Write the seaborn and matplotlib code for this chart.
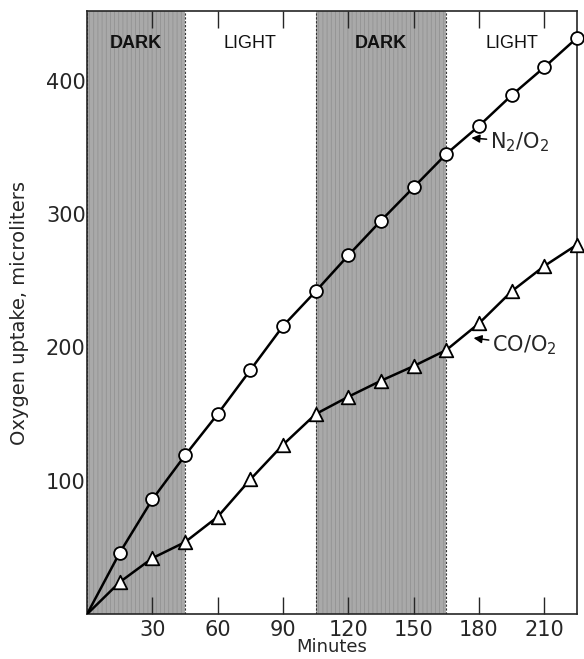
import numpy as np
import pandas as pd
import matplotlib
matplotlib.use('Agg')
import matplotlib.pyplot as plt
import seaborn as sns

minutes = [0, 15, 30, 45, 60, 75, 90, 105, 120, 135, 150, 165, 180, 195, 210, 225]
n2_o2 = [0, 46, 86, 119, 150, 183, 216, 242, 269, 295, 320, 345, 366, 389, 410, 432]
co_o2 = [0, 24, 42, 54, 73, 101, 127, 150, 163, 175, 186, 198, 218, 242, 261, 277]
dark_periods = [(0, 45), (105, 165)]
period_labels = ['DARK', 'LIGHT', 'DARK', 'LIGHT']
period_centers = [22.5, 75, 135, 195]

df = pd.DataFrame({'minutes': minutes, 'N2/O2': n2_o2, 'CO/O2': co_o2})

sns.set_style('ticks')
plt.rcParams['font.family'] = ['DejaVu Sans']
plt.rcParams['hatch.linewidth'] = 0.5

fig = plt.figure(figsize=(5.84, 6.59), dpi=100)
ax = fig.add_axes([0.149, 0.068, 0.839, 0.915])

for x0, x1 in dark_periods:
    ax.axvspan(x0, x1, facecolor='#a9a9a9', edgecolor='#8e8e8e', hatch='||||',
               linewidth=0, zorder=0)
    ax.axvline(x0, color='#333333', linestyle=(0, (2, 1.5)), linewidth=0.8, zorder=1)
    ax.axvline(x1, color='#333333', linestyle=(0, (2, 1.5)), linewidth=0.8, zorder=1)

sns.lineplot(data=df, x='minutes', y='N2/O2', ax=ax, color='black', linewidth=1.8, zorder=3)
sns.lineplot(data=df, x='minutes', y='CO/O2', ax=ax, color='black', linewidth=1.8, zorder=3)
ax.scatter(df['minutes'][1:], df['N2/O2'][1:], s=85, marker='o', facecolor='white',
           edgecolor='black', linewidth=1.3, zorder=4, clip_on=False)
ax.scatter(df['minutes'][1:], df['CO/O2'][1:], s=95, marker='^', facecolor='white',
           edgecolor='black', linewidth=1.3, zorder=4, clip_on=False)

for lab, xc in zip(period_labels, period_centers):
    weight = 'heavy' if lab == 'DARK' else 'normal'
    ax.text(xc, 428, lab, ha='center', va='center', fontsize=13, fontweight=weight,
            family=['Liberation Sans', 'DejaVu Sans'], color='#111111', zorder=5)

ax.annotate('N$_2$/O$_2$', xy=(176.5, 357), xytext=(185, 354), fontsize=15,
            va='center', ha='left',
            arrowprops=dict(arrowstyle='-|>', color='black', lw=1.1, mutation_scale=12,
                            shrinkA=0, shrinkB=0))
ax.annotate('CO/O$_2$', xy=(177.5, 207), xytext=(186, 202), fontsize=15,
            va='center', ha='left',
            arrowprops=dict(arrowstyle='-|>', color='black', lw=1.1, mutation_scale=12,
                            shrinkA=0, shrinkB=0))

ax.set_xlim(0, 225)
ax.set_ylim(0, 452)
ax.set_xticks([30, 60, 90, 120, 150, 180, 210])
ax.set_yticks([100, 200, 300, 400])
ax.tick_params(axis='x', direction='in', length=12, width=1, top=True, labelsize=15, pad=4)
ax.tick_params(axis='y', length=0, labelsize=15, pad=1)
ax.set_xlabel('Minutes', fontsize=13, labelpad=-1)
ax.set_ylabel('Oxygen uptake, microliters', fontsize=14, labelpad=12)
for sp in ax.spines.values():
    sp.set_linewidth(1.2)
    sp.set_visible(True)

fig.savefig('out.png', dpi=100)
